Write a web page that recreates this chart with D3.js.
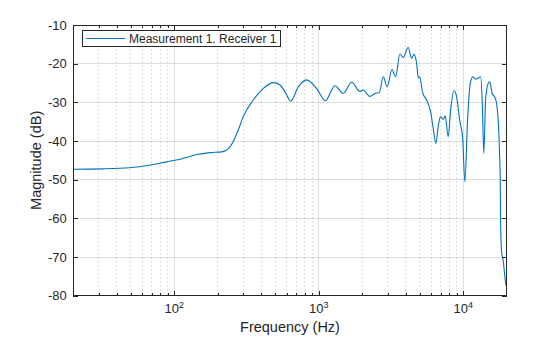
<!DOCTYPE html>
<html><head><meta charset="utf-8">
<script src="https://cdn.jsdelivr.net/npm/d3@7/dist/d3.min.js"></script>
<style>body{margin:0;background:#fff}svg{display:block}</style>
</head><body>
<svg id="chart" width="560" height="337"></svg>
<script>
// ---- data ----
const freqHz = [20, 32, 49, 68, 88, 110, 143, 177, 213, 243, 277, 300, 352, 413, 484, 539, 593, 639, 722, 824, 966, 1116, 1197, 1295, 1479, 1690, 1929, 2034, 2262, 2448, 2624, 2795, 2979, 3212, 3405, 3645, 3846, 4159, 4395, 4560, 4758, 4885, 5000, 5236, 5580, 5946, 6196, 6471, 6714, 6966, 7270, 7504, 7870, 8180, 8625, 9000, 9485, 9900, 10270, 10720, 11110, 11290, 11720, 12170, 12700, 13190, 13530, 13890, 14280, 14890, 15290, 15860, 16550, 17010, 17650, 17800, 18040, 18120, 18400, 18890, 19780, 20000];
const magnitudeDb = [-47.3, -47.2, -46.9, -46.2, -45.4, -44.7, -43.5, -43.0, -42.8, -41.5, -37.2, -33.7, -29.4, -26.4, -24.9, -25.5, -27.7, -29.7, -26.0, -24.2, -26.4, -29.6, -27.7, -25.7, -27.7, -24.8, -27.2, -26.8, -28.5, -27.7, -27.5, -23.4, -26.0, -21.5, -23.4, -17.5, -18.4, -15.8, -18.6, -17.6, -19.9, -23.6, -23.4, -27.5, -29.4, -32.4, -36.7, -40.6, -36.3, -33.7, -34.4, -33.5, -38.9, -32.0, -27.0, -28.5, -35.0, -39.0, -50.5, -34.6, -26.0, -24.4, -23.4, -24.0, -23.8, -23.4, -29.4, -43.2, -29.4, -25.1, -24.7, -27.7, -28.7, -30.2, -38.0, -42.0, -50.1, -59.6, -68.2, -70.8, -77.2, -77.7];
const seriesName = "Measurement 1. Receiver 1";
const xDomain = [20, 20000];
const yDomain = [-80, -10];
const yTickValues = [-80, -70, -60, -50, -40, -30, -20, -10];
const xMajorTicks = [100, 1000, 10000];
const xMajorExponents = ["2", "3", "4"];
const xMinorTicks = [30, 40, 50, 60, 70, 80, 90, 200, 300, 400, 500, 600, 700, 800, 900, 2000, 3000, 4000, 5000, 6000, 7000, 8000, 9000];
const xLabel = "Frequency (Hz)";
const yLabel = "Magnitude (dB)";

// ---- layout ----
const L = 73.3, R = 506.7, T = 25, B = 295.7;
const axisColor = "#262626";
const lineColor = "#0072BD";
const font = "'Liberation Sans', Arial, Helvetica, sans-serif";

const svg = d3.select("#chart");
const x = d3.scaleLog().domain(xDomain).range([L, R]);
const y = d3.scaleLinear().domain(yDomain).range([B, T]);

// grid
const grid = svg.append("g");
grid.selectAll(".xmin").data(xMinorTicks).join("line")
  .attr("x1", d => x(d)).attr("x2", d => x(d)).attr("y1", T).attr("y2", B)
  .attr("stroke", axisColor).attr("stroke-opacity", 0.25).attr("stroke-width", 0.6)
  .attr("stroke-dasharray", "1.5,2.5").attr("shape-rendering", "crispEdges");
grid.selectAll(".xmaj").data(xMajorTicks).join("line")
  .attr("x1", d => x(d)).attr("x2", d => x(d)).attr("y1", T).attr("y2", B)
  .attr("stroke", axisColor).attr("stroke-opacity", 0.15).attr("stroke-width", 1)
  .attr("shape-rendering", "crispEdges");
grid.selectAll(".ymaj").data(yTickValues).join("line")
  .attr("x1", L).attr("x2", R).attr("y1", d => y(d)).attr("y2", d => y(d))
  .attr("stroke", axisColor).attr("stroke-opacity", 0.15).attr("stroke-width", 1)
  .attr("shape-rendering", "crispEdges");

// clip
svg.append("clipPath").attr("id", "clip").append("rect")
  .attr("x", L).attr("y", T).attr("width", R - L).attr("height", B - T);

// line
const pts = freqHz.map((f, i) => [f, magnitudeDb[i]]);
const line = d3.line().x(d => x(d[0])).y(d => y(d[1])).curve(d3.curveMonotoneX);
svg.append("path").datum(pts).attr("d", line)
  .attr("fill", "none").attr("stroke", lineColor).attr("stroke-width", 1.1)
  .attr("stroke-linejoin", "round").attr("clip-path", "url(#clip)");

// axes using d3 axis generators (ticks inward)
const majLen = 4.5, minLen = 2.5;
function styleAxis(g) {
  g.select(".domain").remove();
  g.selectAll("line").attr("stroke", axisColor).attr("shape-rendering", "crispEdges");
  g.selectAll("text").remove();
}
svg.append("g").attr("transform", `translate(0,${B})`)
  .call(d3.axisBottom(x).tickValues(xMajorTicks).tickSize(-majLen)).call(styleAxis);
svg.append("g").attr("transform", `translate(0,${B})`)
  .call(d3.axisBottom(x).tickValues(xMinorTicks).tickSize(-minLen)).call(styleAxis);
svg.append("g").attr("transform", `translate(0,${T})`)
  .call(d3.axisTop(x).tickValues(xMajorTicks).tickSize(-majLen)).call(styleAxis);
svg.append("g").attr("transform", `translate(0,${T})`)
  .call(d3.axisTop(x).tickValues(xMinorTicks).tickSize(-minLen)).call(styleAxis);
svg.append("g").attr("transform", `translate(${L},0)`)
  .call(d3.axisLeft(y).tickValues(yTickValues).tickSize(-majLen)).call(styleAxis);
svg.append("g").attr("transform", `translate(${R},0)`)
  .call(d3.axisRight(y).tickValues(yTickValues).tickSize(-majLen)).call(styleAxis);

// box
svg.append("rect").attr("x", L).attr("y", T).attr("width", R - L).attr("height", B - T)
  .attr("fill", "none").attr("stroke", axisColor).attr("stroke-width", 1)
  .attr("shape-rendering", "crispEdges");

// y tick labels
svg.append("g").selectAll("text").data(yTickValues).join("text")
  .attr("x", L - 6.5).attr("y", d => y(d)).attr("dy", "0.36em")
  .attr("text-anchor", "end").attr("font-family", font).attr("font-size", 13)
  .attr("fill", axisColor).text(d => d);

// x tick labels (10^n)
const xl = svg.append("g").selectAll("text").data(xMajorTicks).join("text")
  .attr("x", d => x(d)).attr("y", 313).attr("text-anchor", "middle")
  .attr("font-family", font).attr("font-size", 13).attr("fill", axisColor);
xl.append("tspan").text("10");
xl.append("tspan").attr("dy", -5.5).attr("font-size", 9).text((d, i) => xMajorExponents[i]);

// axis labels
svg.append("text").attr("x", (L + R) / 2).attr("y", 332).attr("text-anchor", "middle")
  .attr("font-family", font).attr("font-size", 14.5).attr("fill", axisColor).text(xLabel);
svg.append("text").attr("transform", `translate(41,${(T + B) / 2}) rotate(-90)`)
  .attr("text-anchor", "middle").attr("font-family", font).attr("font-size", 14.5)
  .attr("fill", axisColor).text(yLabel);

// legend
const lg = svg.append("g");
lg.append("rect").attr("x", 82.5).attr("y", 30.5).attr("width", 198).attr("height", 15.5)
  .attr("fill", "#fff").attr("stroke", axisColor).attr("stroke-width", 1)
  .attr("shape-rendering", "crispEdges");
lg.append("line").attr("x1", 86).attr("x2", 125).attr("y1", 38.5).attr("y2", 38.5)
  .attr("stroke", lineColor).attr("stroke-width", 1.1);
lg.append("text").attr("x", 129).attr("y", 38.5).attr("dy", "0.36em")
  .attr("font-family", font).attr("font-size", 12).attr("fill", axisColor).text(seriesName);
</script>
</body></html>
